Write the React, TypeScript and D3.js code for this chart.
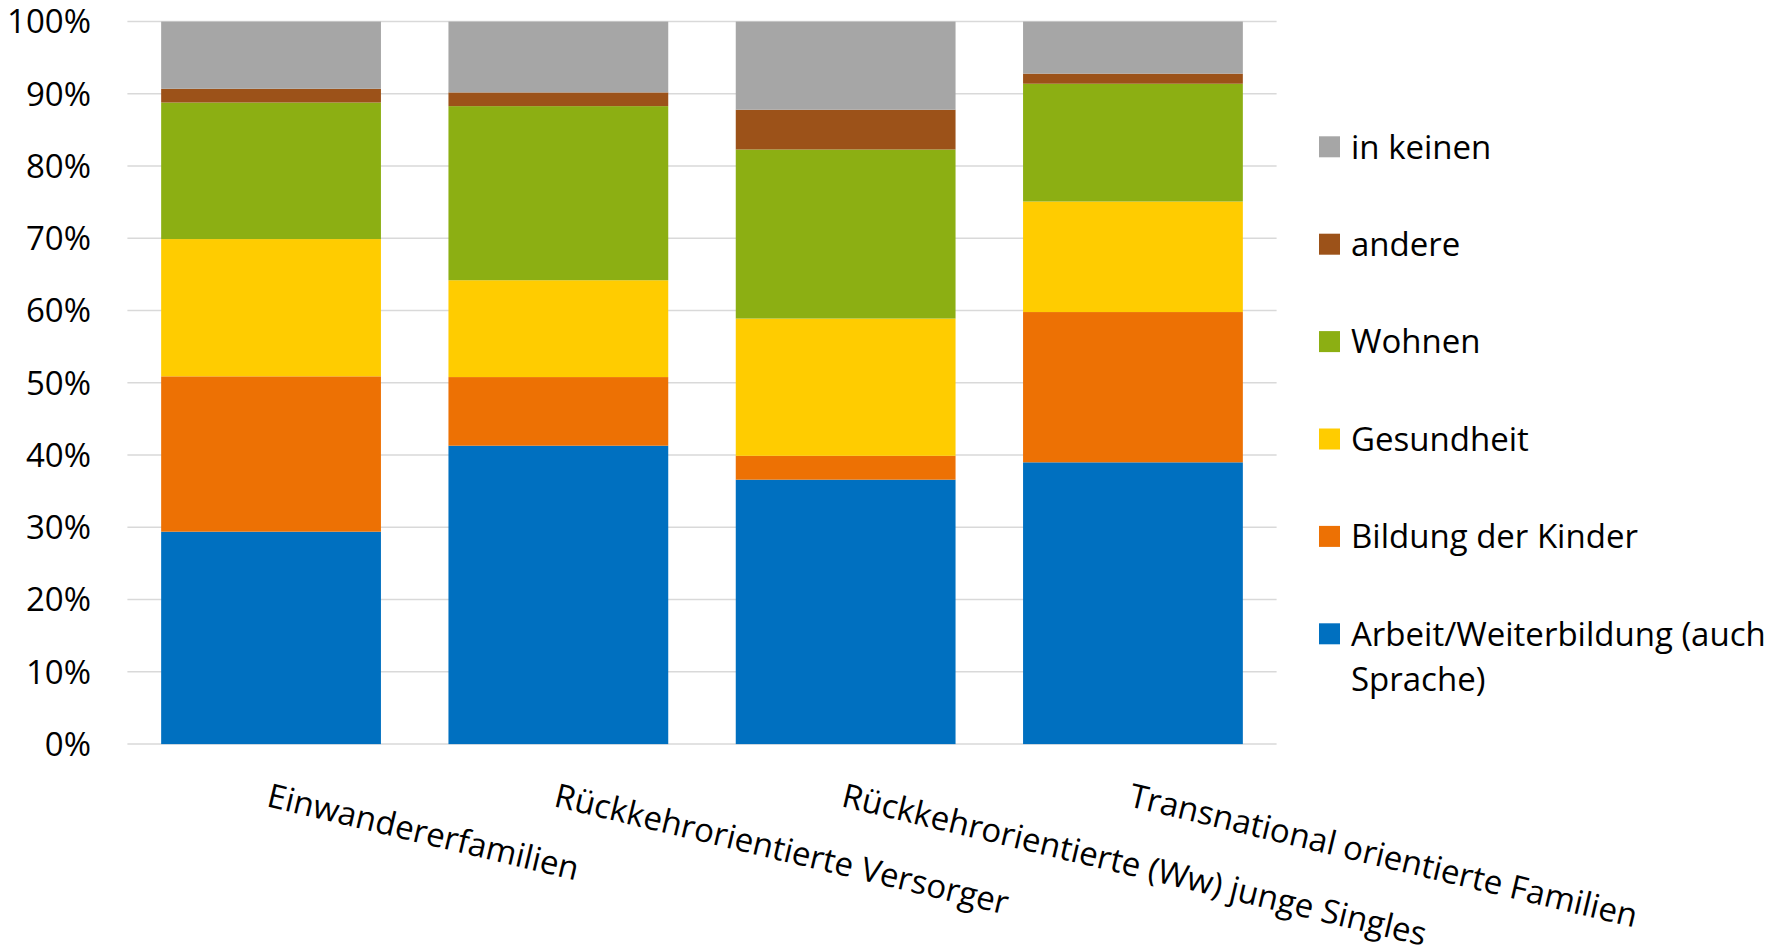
import { useMemo } from 'react'
import * as d3 from 'd3'

const categories = [
  'Einwandererfamilien',
  'Rückkehrorientierte Versorger',
  'Rückkehrorientierte (Ww) junge Singles',
  'Transnational orientierte Familien',
]

// stacked bottom -> top, percent
const arbeit = [29.4, 41.3, 36.6, 39.0]
const bildung = [21.5, 9.5, 3.3, 20.8]
const gesundheit = [19.0, 13.4, 19.0, 15.3]
const wohnen = [18.9, 24.1, 23.4, 16.3]
const andere = [1.9, 1.9, 5.5, 1.4]
const inKeinen = [9.3, 9.8, 12.2, 7.2]

const seriesKeys = ['arbeit', 'bildung', 'gesundheit', 'wohnen', 'andere', 'inKeinen']
const seriesValues = [arbeit, bildung, gesundheit, wohnen, andere, inKeinen]
const seriesLabels = [
  ['Arbeit/Weiterbildung (auch', 'Sprache)'],
  ['Bildung der Kinder'],
  ['Gesundheit'],
  ['Wohnen'],
  ['andere'],
  ['in keinen'],
]
const seriesColors = ['#0070C0', '#ED7104', '#FFCC00', '#8CAF13', '#9C5219', '#A6A6A6']

const yTicks = [0, 10, 20, 30, 40, 50, 60, 70, 80, 90, 100]

const W = 1784
const H = 949
const FONT = '"Open Sans", Calibri, sans-serif'
const FS = 33
const CAP = FS * 0.714

export default function App() {
  const x = d3.scaleBand<string>().domain(categories).range([127.4, 1276.6]).paddingInner(0.235).paddingOuter(0.1175)
  const y = d3.scaleLinear().domain([0, 100]).range([744.1, 21.6])

  const stacked = useMemo(() => {
    const rows = categories.map((c, i) => {
      const r: Record<string, number | string> = { cat: c }
      seriesKeys.forEach((k, j) => { r[k] = seriesValues[j][i] })
      return r
    })
    return d3.stack<Record<string, number | string>>().keys(seriesKeys)(rows)
  }, [])

  // legend, top -> bottom is reverse of stack order
  const legendOrder = d3.range(seriesKeys.length).reverse()
  const legendY = d3.scalePoint<number>().domain(legendOrder).range([146.8, 633.8])

  return (
    <>
      <style>{'body{margin:0}'}</style>
      <svg width={W} height={H} style={{ display: 'block', background: '#fff' }} fontFamily={FONT}>
        {yTicks.map(t => (
          <g key={t}>
            <line x1={127.4} x2={1276.6} y1={y(t)} y2={y(t)} stroke="#d9d9d9" strokeWidth={1.5} />
            <text x={91} y={y(t)} dy="0.36em" textAnchor="end" fontSize={FS} fill="#000">{t}%</text>
          </g>
        ))}

        {stacked.map((s, j) => (
          <g key={s.key} fill={seriesColors[j]}>
            {s.map((d, i) => (
              <rect
                key={i}
                x={x(categories[i])}
                width={x.bandwidth()}
                y={y(d[1])}
                height={y(d[0]) - y(d[1])}
              />
            ))}
          </g>
        ))}

        {categories.map(c => (
          <g key={c} transform={`translate(${(x(c) ?? 0) + x.bandwidth() / 2},783) rotate(13.5)`}>
            <text x={0} y={CAP} fontSize={FS} fill="#000">{c}</text>
          </g>
        ))}

        {legendOrder.map(j => {
          const cy = legendY(j) ?? 0
          return (
            <g key={seriesKeys[j]}>
              <rect x={1319} y={cy - 10.5} width={21} height={21} fill={seriesColors[j]} />
              <text x={1351} y={cy + CAP / 2} fontSize={FS} fill="#000">
                {seriesLabels[j].map((l, k) => (
                  <tspan key={k} x={1351} dy={k === 0 ? 0 : 45}>{l}</tspan>
                ))}
              </text>
            </g>
          )
        })}
      </svg>
    </>
  )
}
